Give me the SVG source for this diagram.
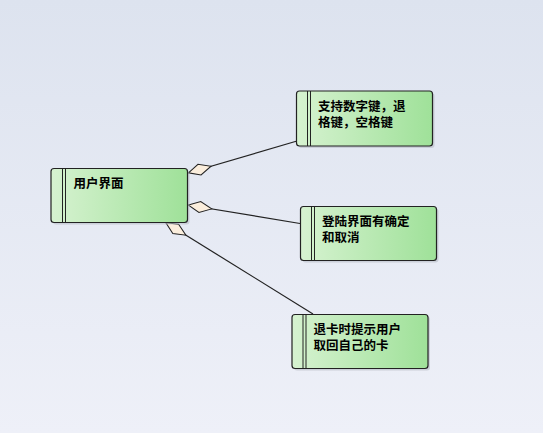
<svg xmlns="http://www.w3.org/2000/svg" width="543" height="433" viewBox="0 0 543 433">
<defs>
<linearGradient id="bg" x1="0" y1="0" x2="0" y2="1">
<stop offset="0" stop-color="#dde3ef"/>
<stop offset="1" stop-color="#eef0f8"/>
</linearGradient>
<linearGradient id="nodeFill" x1="0" y1="0" x2="1" y2="0">
<stop offset="0" stop-color="#d6f2d0"/>
<stop offset="1" stop-color="#9fe199"/>
</linearGradient>
<marker id="diamond" markerUnits="userSpaceOnUse" markerWidth="26" markerHeight="14" refX="0" refY="7" viewBox="0 0 26 14" orient="auto">
<polygon points="0.5,7 12,1.5 24,7 12,12.5" fill="#fbeedd" stroke="#222" stroke-width="1"/>
</marker>
</defs>
<style>
.shadow{fill:#b8bcc6;opacity:0.6}
.box{fill:url(#nodeFill);stroke:#222;stroke-width:1.2}
.stripe{stroke:#222;stroke-width:1}
.label{font-family:"Liberation Sans","Noto Sans CJK SC",sans-serif;font-size:12.5px;font-weight:bold;fill:#000}
.conn{stroke:#222;stroke-width:1.2;fill:none;marker-start:url(#diamond)}
</style>
<rect x="0" y="0" width="543" height="433" fill="url(#bg)"/>
<g id="connectors">
<path class="conn" d="M188,173 L297,141"/>
<path class="conn" d="M188,205 L300,223.5"/>
<path class="conn" d="M165.5,222.5 L313,314"/>
</g>
<g id="node-main">
<rect class="shadow" x="53" y="170.5" width="136.5" height="54" rx="3"/>
<rect class="box" x="51" y="168.5" width="136.5" height="54" rx="3"/>
<line class="stripe" x1="62.5" y1="168.5" x2="62.5" y2="222.5"/>
<line class="stripe" x1="65.5" y1="168.5" x2="65.5" y2="222.5"/>
<text class="label" x="73.5" y="187.5">用户界面</text>
</g>
<g id="node-keys">
<rect class="shadow" x="298.5" y="93" width="136" height="55" rx="3"/>
<rect class="box" x="296.5" y="91" width="136" height="55" rx="3"/>
<line class="stripe" x1="307.5" y1="91" x2="307.5" y2="146"/>
<line class="stripe" x1="310.5" y1="91" x2="310.5" y2="146"/>
<text class="label" x="318" y="111"><tspan x="318" y="111">支持数字键，退</tspan><tspan x="318" y="127">格键，空格键</tspan></text>
</g>
<g id="node-login">
<rect class="shadow" x="302.5" y="208.5" width="136" height="54" rx="3"/>
<rect class="box" x="300.5" y="206.5" width="136" height="54" rx="3"/>
<line class="stripe" x1="311.5" y1="206.5" x2="311.5" y2="260.5"/>
<line class="stripe" x1="314.5" y1="206.5" x2="314.5" y2="260.5"/>
<text class="label" x="322" y="226"><tspan x="322" y="226">登陆界面有确定</tspan><tspan x="322" y="242">和取消</tspan></text>
</g>
<g id="node-card">
<rect class="shadow" x="294" y="316.5" width="136" height="54" rx="3"/>
<rect class="box" x="292" y="314.5" width="136" height="54" rx="3"/>
<line class="stripe" x1="303" y1="314.5" x2="303" y2="368.5"/>
<line class="stripe" x1="306" y1="314.5" x2="306" y2="368.5"/>
<text class="label" x="313.5" y="333.5"><tspan x="313.5" y="333.5">退卡时提示用户</tspan><tspan x="313.5" y="349.5">取回自己的卡</tspan></text>
</g>
</svg>
